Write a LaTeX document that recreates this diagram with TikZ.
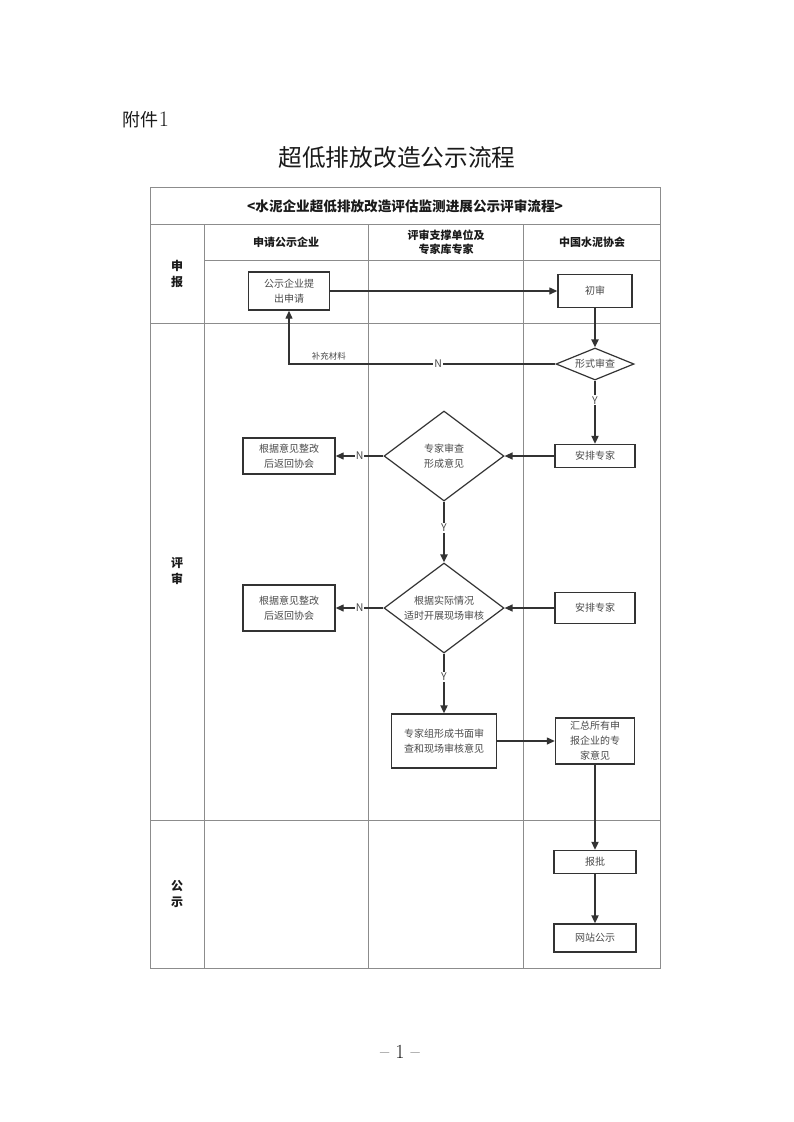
\documentclass[tikz,border=0pt]{standalone}
\usepackage{fontspec}
\usepackage{xcolor}
\usepackage{tikz}
\usetikzlibrary{shapes.geometric,arrows.meta}
\newfontfamily\cjk{Noto Sans CJK SC}
\definecolor{grid}{HTML}{8C8C8C}
\definecolor{edge}{HTML}{333333}
\definecolor{ink}{HTML}{4A4A4A}
\definecolor{head}{HTML}{1A1A1A}
\tikzset{
  lane/.style={draw=grid, line width=1pt},
  box/.style={draw=edge, line width=1.4pt, fill=white, text=ink, align=center, inner sep=0pt, font=\cjk\fontsize{10}{15}\selectfont},
  dia/.style={diamond, draw=edge, line width=1.2pt, fill=white, text=ink, align=center, inner sep=0pt, font=\cjk\fontsize{10}{15}\selectfont},
  flow/.style={draw=edge, line width=1.3pt, -{Triangle[length=8pt,width=7pt]}},
  flowv/.style={flow, line width=2pt},
  yn/.style={fill=white, text=ink, inner sep=1pt, font=\cjk\fontsize{10.5}{12}\selectfont},
  note/.style={text=ink, inner sep=1pt, font=\cjk\fontsize{8.5}{10}\selectfont},
  hd/.style={text=head, align=center, font=\cjk\bfseries\fontsize{11}{14}\selectfont},
  side/.style={text=head, align=center, font=\cjk\bfseries\fontsize{12}{16}\selectfont},
}
\begin{document}
\begin{tikzpicture}[x=1pt,y=-1pt]
  \fill[white] (0,0) rectangle (793,1122);
  % page heading
  \node[text=head, font=\fontsize{22}{24}\selectfont] (annex) at (146,120) {{\cjk\fontsize{18}{20}\selectfont 附件}1};
  \node[text=head, font=\cjk\fontsize{23.7}{26}\selectfont] (title) at (397,158) {超低排放改造公示流程};
  \node[text=head, font=\fontsize{20}{22}\selectfont] (pageno) at (400,1052) {-- 1 --};
  % swimlane table
  \draw[lane] (150,187) rectangle (660,968);
  \draw[lane] (150,224) -- (660,224);
  \draw[lane] (204,260) -- (660,260);
  \draw[lane] (150,323) -- (660,323);
  \draw[lane] (150,820) -- (660,820);
  \foreach \x in {204,368,523}
    \draw[lane] (\x,224) -- (\x,968);
  \node[hd, font=\cjk\bfseries\fontsize{13.6}{15}\selectfont] (caption) at (405,206) {<水泥企业超低排放改造评估监测进展公示评审流程>};
  \node[hd] (colapply) at (286,242) {申请公示企业};
  \node[hd] (colexpert) at (446,242) {评审支撑单位及\\专家库专家};
  \node[hd] (colassoc) at (592,242) {中国水泥协会};
  \node[side] (rowapply) at (177,274) {申\\报};
  \node[side] (rowreview) at (177,571) {评\\审};
  \node[side] (rowpublic) at (177,894) {公\\示};
  % flow nodes
  \node[box, minimum width=81pt, minimum height=38pt] (apply) at (289,291) {公示企业提\\出申请};
  \node[box, minimum width=74pt, minimum height=33pt] (firstcheck) at (595,291) {初审};
  \node[dia, minimum width=78pt, minimum height=32pt, aspect=2.4] (formcheck) at (595,364) {形式审查};
  \node[box, minimum width=80pt, minimum height=23pt] (assignA) at (595,456) {安排专家};
  \node[dia, minimum width=120pt, minimum height=90pt, aspect=1.33] (review) at (444,456) {专家审查\\形成意见};
  \node[box, minimum width=92pt, minimum height=36pt] (rectifyA) at (289,456) {根据意见整改\\后返回协会};
  \node[dia, minimum width=120pt, minimum height=90pt, aspect=1.33] (onsite) at (444,608) {根据实际情况\\适时开展现场审核};
  \node[box, minimum width=80pt, minimum height=31pt] (assignB) at (595,608) {安排专家};
  \node[box, minimum width=92pt, minimum height=46pt] (rectifyB) at (289,608) {根据意见整改\\后返回协会};
  \node[box, minimum width=105pt, minimum height=54pt] (opinion) at (444,741) {专家组形成书面审\\查和现场审核意见};
  \node[box, minimum width=79pt, minimum height=46pt] (summary) at (595,741) {汇总所有申\\报企业的专\\家意见};
  \node[box, minimum width=82pt, minimum height=23pt] (approve) at (595,862) {报批};
  \node[box, minimum width=82pt, minimum height=28pt] (publish) at (595,938) {网站公示};
  % connectors
  \draw[flow] (apply) -- (firstcheck);
  \draw[flowv] (firstcheck) -- (formcheck);
  \draw[flow] (formcheck.west) -- node[yn, pos=0.44]{N} node[note, pos=0.85, above=2pt]{补充材料} (formcheck.west -| apply) -- (apply);
  \draw[flowv] (formcheck) -- node[yn, pos=0.31]{Y} (assignA);
  \draw[flow] (assignA) -- (review);
  \draw[flow] (review) -- node[yn, pos=0.5]{N} (rectifyA);
  \draw[flowv] (review) -- node[yn, pos=0.43]{Y} (onsite);
  \draw[flow] (assignB) -- (onsite);
  \draw[flow] (onsite) -- node[yn, pos=0.5]{N} (rectifyB);
  \draw[flowv] (onsite) -- node[yn, pos=0.39]{Y} (opinion);
  \draw[flow] (opinion) -- (summary);
  \draw[flowv] (summary) -- (approve);
  \draw[flowv] (approve) -- (publish);
\end{tikzpicture}
\end{document}
